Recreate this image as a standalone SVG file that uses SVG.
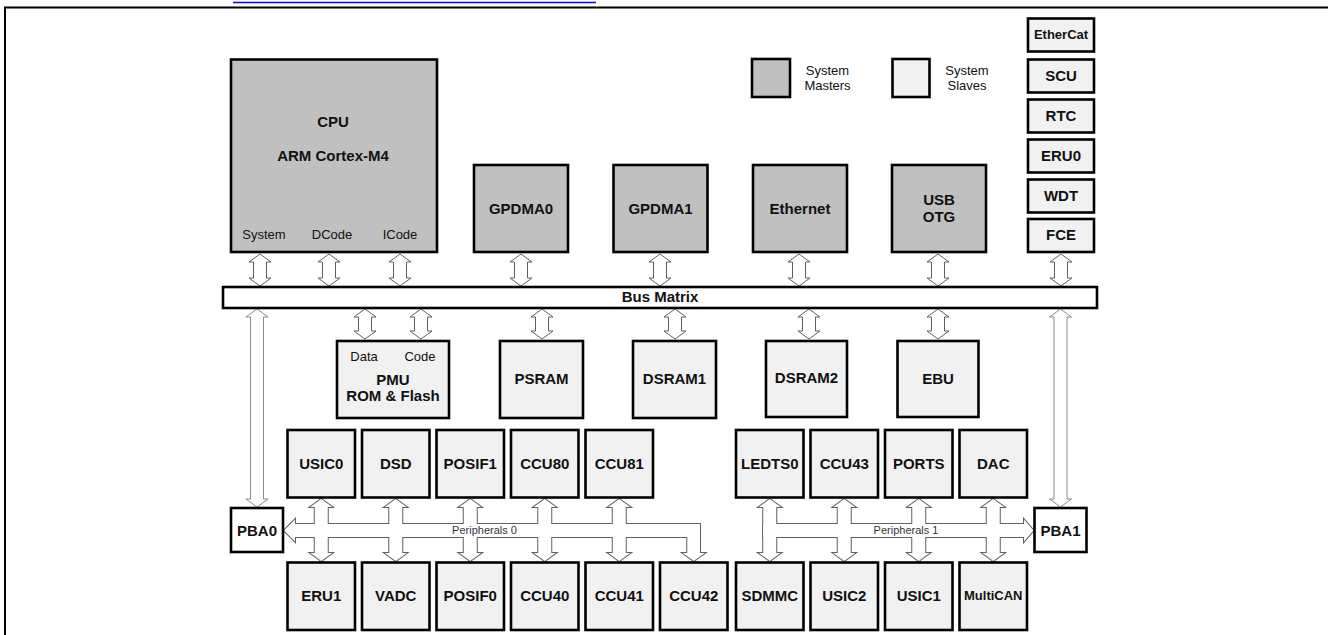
<svg xmlns="http://www.w3.org/2000/svg" xmlns:xlink="http://www.w3.org/1999/xlink" width="1328" height="635" viewBox="0 0 1328 635">
<style>
.m{fill:#c0c0c0;stroke:#000;stroke-width:2.6}
.s{fill:#f1f1f1;stroke:#000;stroke-width:2.6}
.w{fill:#fff;stroke:#000;stroke-width:2.6}
.b{font-family:"Liberation Sans",Arial,sans-serif;font-weight:bold;font-size:15px;fill:#111;text-anchor:middle}
.r{font-family:"Liberation Sans",Arial,sans-serif;font-size:13px;fill:#111;text-anchor:middle}
.p{font-family:"Liberation Sans",Arial,sans-serif;font-size:11px;fill:#333340;text-anchor:middle}
.a{fill:#fff;stroke:#606060;stroke-width:1}
.al{fill:#fff;stroke:#8a8a8a;stroke-width:1}
.st{fill:none;stroke:#606060;stroke-width:2}
.fl{fill:#fff;stroke:none}
</style>
<defs>
<path id="a32" d="M0,0 L11,8 L6.5,8 L6.5,24 L11,24 L0,32 L-11,24 L-6.5,24 L-6.5,8 L-11,8 Z"/>
<path id="a30" d="M0,0 L11,8 L6.5,8 L6.5,22 L11,22 L0,30 L-11,22 L-6.5,22 L-6.5,8 L-11,8 Z"/>
<path id="a198" d="M0,0 L11,8 L6.5,8 L6.5,190 L11,190 L0,198 L-11,190 L-6.5,190 L-6.5,8 L-11,8 Z"/>
<path id="a62" d="M0,0 L11,8 L6.5,8 L6.5,54 L11,54 L0,62 L-11,54 L-6.5,54 L-6.5,8 L-11,8 Z"/>
<path id="bus0" d="M284,530.5 L295,519.5 L295,524 L700,524 L700,553 L704.75,553 L693.75,561 L682.75,553 L687.25,553 L687.25,537 L295,537 L295,541.5 Z"/>
<path id="bus1" d="M763.25,524 L1024,524 L1024,519.5 L1033.5,530.5 L1024,541.5 L1024,537 L763.25,537 Z"/>
</defs>

<!-- frame -->
<g id="frame">
<line x1="233" y1="2.5" x2="596" y2="2.5" stroke="#0000ff" stroke-width="1.5"/>
<path d="M5,635 L5,7.5 L1328,7.5" fill="none" stroke="#000" stroke-width="2"/>
</g>

<g id="connectors">
<use xlink:href="#a32" class="a" x="260" y="254"/>
<use xlink:href="#a32" class="a" x="329" y="254"/>
<use xlink:href="#a32" class="a" x="400" y="254"/>
<use xlink:href="#a32" class="a" x="521" y="254"/>
<use xlink:href="#a32" class="a" x="660" y="254"/>
<use xlink:href="#a32" class="a" x="799" y="254"/>
<use xlink:href="#a32" class="a" x="938" y="254"/>
<use xlink:href="#a32" class="a" x="1061" y="254"/>
<use xlink:href="#a30" class="a" x="365" y="309"/>
<use xlink:href="#a30" class="a" x="421" y="309"/>
<use xlink:href="#a30" class="a" x="542" y="309"/>
<use xlink:href="#a30" class="a" x="675" y="309"/>
<use xlink:href="#a30" class="a" x="809" y="309"/>
<use xlink:href="#a30" class="a" x="938" y="309"/>
<use xlink:href="#a198" class="al" x="257" y="309"/>
<use xlink:href="#a198" class="al" x="1060.5" y="309"/>
<g id="peripherals0">
<use xlink:href="#bus0" class="st"/>
<use xlink:href="#a62" class="st" x="321.25" y="499"/>
<use xlink:href="#a62" class="st" x="395.75" y="499"/>
<use xlink:href="#a62" class="st" x="470.25" y="499"/>
<use xlink:href="#a62" class="st" x="544.75" y="499"/>
<use xlink:href="#a62" class="st" x="619.25" y="499"/>
<use xlink:href="#bus0" class="fl"/>
<use xlink:href="#a62" class="fl" x="321.25" y="499"/>
<use xlink:href="#a62" class="fl" x="395.75" y="499"/>
<use xlink:href="#a62" class="fl" x="470.25" y="499"/>
<use xlink:href="#a62" class="fl" x="544.75" y="499"/>
<use xlink:href="#a62" class="fl" x="619.25" y="499"/>
<text class="p" x="484.5" y="533.5">Peripherals 0</text>
</g>
<g id="peripherals1">
<use xlink:href="#bus1" class="st"/>
<use xlink:href="#a62" class="st" x="769.75" y="499"/>
<use xlink:href="#a62" class="st" x="844.25" y="499"/>
<use xlink:href="#a62" class="st" x="918.75" y="499"/>
<use xlink:href="#a62" class="st" x="993.25" y="499"/>
<use xlink:href="#bus1" class="fl"/>
<use xlink:href="#a62" class="fl" x="769.75" y="499"/>
<use xlink:href="#a62" class="fl" x="844.25" y="499"/>
<use xlink:href="#a62" class="fl" x="918.75" y="499"/>
<use xlink:href="#a62" class="fl" x="993.25" y="499"/>
<text class="p" x="906" y="533.5">Peripherals 1</text>
</g>
</g>

<g id="cpu">
<rect class="m" x="231" y="59.5" width="206" height="192.5"/>
<text class="b" x="333" y="127">CPU</text>
<text class="b" x="333" y="161">ARM Cortex-M4</text>
<text class="r" x="264" y="239">System</text>
<text class="r" x="332" y="239">DCode</text>
<text class="r" x="400" y="239">ICode</text>
</g>
<g id="gpdma0"><rect class="m" x="474" y="165" width="94" height="87"/><text class="b" x="521" y="213.5">GPDMA0</text></g>
<g id="gpdma1"><rect class="m" x="613.5" y="165" width="94" height="87"/><text class="b" x="660.5" y="213.5">GPDMA1</text></g>
<g id="ethernet"><rect class="m" x="753" y="165" width="94" height="87"/><text class="b" x="800" y="213.5">Ethernet</text></g>
<g id="usbotg"><rect class="m" x="892" y="165" width="94" height="87"/><text class="b" x="939" y="204.5">USB</text><text class="b" x="939" y="222">OTG</text></g>

<g id="legend-masters"><rect class="m" x="752" y="59" width="38" height="38"/><text class="r" x="827.5" y="75">System</text><text class="r" x="827.5" y="89.5">Masters</text></g>
<g id="legend-slaves"><rect class="s" x="892.5" y="59" width="37" height="38"/><text class="r" x="967" y="75">System</text><text class="r" x="967" y="89.5">Slaves</text></g>

<g id="ethercat"><rect class="s" x="1028" y="18.5" width="66" height="33"/><text class="b" x="1061" y="39" style="font-size:13px">EtherCat</text></g>
<g id="scu"><rect class="s" x="1028" y="59.5" width="66" height="33"/><text class="b" x="1061" y="80.5">SCU</text></g>
<g id="rtc"><rect class="s" x="1028" y="99.5" width="66" height="33"/><text class="b" x="1061" y="120.5">RTC</text></g>
<g id="eru0"><rect class="s" x="1028" y="139.5" width="66" height="33"/><text class="b" x="1061" y="160.5">ERU0</text></g>
<g id="wdt"><rect class="s" x="1028" y="179.5" width="66" height="33"/><text class="b" x="1061" y="200.5">WDT</text></g>
<g id="fce"><rect class="s" x="1028" y="219" width="66" height="33"/><text class="b" x="1061" y="240">FCE</text></g>

<g id="busmatrix"><rect class="w" x="223" y="287" width="874" height="21"/><text class="b" x="660" y="302">Bus Matrix</text></g>

<g id="pmu"><rect class="s" x="337" y="341" width="112" height="77"/><text class="r" x="364" y="361">Data</text><text class="r" x="420" y="361">Code</text><text class="b" x="393" y="384.5">PMU</text><text class="b" x="393" y="400.5">ROM &amp; Flash</text></g>
<g id="psram"><rect class="s" x="500" y="341" width="83" height="77"/><text class="b" x="541.5" y="383.5">PSRAM</text></g>
<g id="dsram1"><rect class="s" x="633" y="341" width="83" height="77"/><text class="b" x="674.5" y="384">DSRAM1</text></g>
<g id="dsram2"><rect class="s" x="766" y="341" width="81" height="76"/><text class="b" x="806.5" y="382.5">DSRAM2</text></g>
<g id="ebu"><rect class="s" x="897.5" y="341" width="81" height="76"/><text class="b" x="938" y="383.5">EBU</text></g>

<g id="usic0"><rect class="s" x="287.5" y="430" width="67.5" height="67.5"/><text class="b" x="321.25" y="468.5">USIC0</text></g>
<g id="dsd"><rect class="s" x="362" y="430" width="67.5" height="67.5"/><text class="b" x="395.75" y="468.5">DSD</text></g>
<g id="posif1"><rect class="s" x="436.5" y="430" width="67.5" height="67.5"/><text class="b" x="470.25" y="468.5">POSIF1</text></g>
<g id="ccu80"><rect class="s" x="511" y="430" width="67.5" height="67.5"/><text class="b" x="544.75" y="468.5">CCU80</text></g>
<g id="ccu81"><rect class="s" x="585.5" y="430" width="67.5" height="67.5"/><text class="b" x="619.25" y="468.5">CCU81</text></g>
<g id="ledts0"><rect class="s" x="736" y="430" width="67.5" height="67.5"/><text class="b" x="769.75" y="468.5">LEDTS0</text></g>
<g id="ccu43"><rect class="s" x="810.5" y="430" width="67.5" height="67.5"/><text class="b" x="844.25" y="468.5">CCU43</text></g>
<g id="ports"><rect class="s" x="885" y="430" width="67.5" height="67.5"/><text class="b" x="918.75" y="468.5">PORTS</text></g>
<g id="dac"><rect class="s" x="959.5" y="430" width="67.5" height="67.5"/><text class="b" x="993.25" y="468.5">DAC</text></g>

<g id="eru1"><rect class="s" x="287.5" y="562.5" width="67.5" height="67.5"/><text class="b" x="321.25" y="600.5">ERU1</text></g>
<g id="vadc"><rect class="s" x="362" y="562.5" width="67.5" height="67.5"/><text class="b" x="395.75" y="600.5">VADC</text></g>
<g id="posif0"><rect class="s" x="436.5" y="562.5" width="67.5" height="67.5"/><text class="b" x="470.25" y="600.5">POSIF0</text></g>
<g id="ccu40"><rect class="s" x="511" y="562.5" width="67.5" height="67.5"/><text class="b" x="544.75" y="600.5">CCU40</text></g>
<g id="ccu41"><rect class="s" x="585.5" y="562.5" width="67.5" height="67.5"/><text class="b" x="619.25" y="600.5">CCU41</text></g>
<g id="ccu42"><rect class="s" x="660" y="562.5" width="67.5" height="67.5"/><text class="b" x="693.75" y="600.5">CCU42</text></g>
<g id="sdmmc"><rect class="s" x="736" y="562.5" width="67.5" height="67.5"/><text class="b" x="769.75" y="600.5">SDMMC</text></g>
<g id="usic2"><rect class="s" x="810.5" y="562.5" width="67.5" height="67.5"/><text class="b" x="844.25" y="600.5">USIC2</text></g>
<g id="usic1"><rect class="s" x="885" y="562.5" width="67.5" height="67.5"/><text class="b" x="918.75" y="600.5">USIC1</text></g>
<g id="multican"><rect class="s" x="959.5" y="562.5" width="67.5" height="67.5"/><text class="b" x="993.25" y="600" style="font-size:13px">MultiCAN</text></g>

<g id="pba0"><rect class="w" x="231" y="508" width="52" height="44"/><text class="b" x="257" y="535.5">PBA0</text></g>
<g id="pba1"><rect class="w" x="1034.5" y="508" width="52" height="44"/><text class="b" x="1060.5" y="535.5">PBA1</text></g>
</svg>
